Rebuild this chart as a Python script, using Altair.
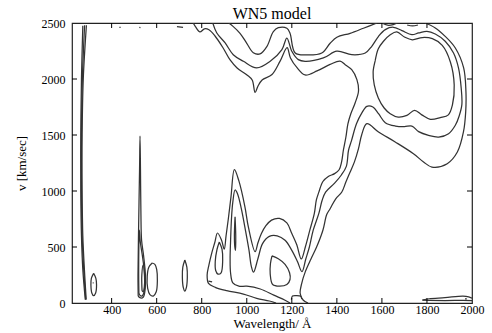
import altair as alt
import pandas as pd

title_text = "WN5 model"
x_title = "Wavelength/ Å"
y_title = "v [km/sec]"
x_ticks = [400, 600, 800, 1000, 1200, 1400, 1600, 1800, 2000]
y_ticks = [0, 500, 1000, 1500, 2000, 2500]
x_domain = [224, 2000]
y_domain = [0, 2500]

# contour lines: (wavelength [A], velocity [km/s])
top1 = [(920,2500),(939,2470),(970,2408),(1000,2319),(1029,2235),(1059,2224),(1089,2289),
        (1118,2423),(1140,2458),(1178,2453),(1192,2408),(1215,2232),(1267,2215),(1333,2232),
        (1370,2319),(1400,2373),(1459,2408),(1518,2453),(1578,2500)]

contour_a = [(762,2500),(772,2468),(792,2420),(812,2448),(832,2440),(859,2384),(895,2277),
             (926,2170),(957,2099),(1001,2036),(1024,1991),(1037,1880),(1050,1938),(1068,1991),
             (1112,2040),(1148,2160),(1179,2280),(1194,2188),(1224,2099),(1259,2036),(1312,2072),
             (1370,2130),(1414,2160),(1437,2128),(1466,2083),(1489,1994),(1496,1890),(1481,1786),
             (1462,1690),(1449,1600),(1440,1480),(1429,1366),(1421,1260),(1410,1190),(1390,1155),
             (1362,1130),(1338,1085),(1320,990),(1309,920),(1300,800),(1280,650),(1260,500),
             (1242,393),(1222,520),(1200,620),(1178,715),(1145,755),(1110,740),(1085,690),
             (1065,620),(1050,540),(1037,458),(1007,679),(992,857),(965,1090),(945,1190),
             (930,950),(918,750),(908,600),(900,480),(888,560),(870,625),(858,540),(845,450),
             (832,340),(824,250),(830,175),(860,140),(911,110),(985,80),(1044,42),(1100,18),(1130,0)]

contour_b = [(849,2500),(867,2411),(904,2322),(940,2217),(985,2158),(1044,2099),(1104,2158),
             (1156,2262),(1178,2366),(1200,2248),(1229,2173),(1259,2158),(1340,2188),(1400,2248),
             (1466,2217),(1526,2232),(1555,2292),(1585,2381),(1615,2441),(1651,2462),(1689,2432),
             (1733,2396),(1763,2411),(1800,2426),(1837,2402),(1881,2337),(1918,2232),(1940,2099),
             (1952,1920),(1955,1771),(1943,1670),(1926,1587),(1896,1512),(1852,1482),(1807,1497),
             (1763,1530),(1733,1580),(1700,1575),(1660,1580),(1615,1610),(1585,1690),(1560,1750),
             (1533,1756),(1511,1697),(1487,1600),(1465,1450),(1452,1366),(1442,1220),(1420,1143),
             (1390,1070),(1350,990),(1335,920),(1320,800),(1295,650),(1278,500),(1262,393),
             (1245,280),(1225,370),(1200,470),(1170,560),(1135,600),(1100,595),(1070,530),
             (1050,400),(1030,275),(1020,330),(1010,470),(995,640),(975,850),(958,980),(948,1009),
             (938,900),(932,750),(928,550),(926,400),(928,270),(938,180),(965,150),(1000,150),
             (1060,125),(1120,70),(1170,25),(1192,0)]

contour_c = [(1792,2500),(1837,2456),(1881,2381),(1926,2277),(1963,2099),(1973,1890),(1972,1706),
             (1962,1527),(1935,1348),(1890,1244),(1822,1214),(1785,1259),(1740,1333),(1659,1438),
             (1585,1527),(1533,1601),(1510,1500),(1496,1378),(1478,1260),(1459,1170),(1440,1080),
             (1422,991),(1395,930),(1370,842),(1355,790),(1338,650),(1310,500),(1285,393),
             (1260,280),(1244,176),(1237,87),(1250,27),(1272,0)]

loop_1800 = [(1570,2161),(1584,2270),(1607,2337),(1637,2395),(1666,2420),(1700,2375),(1735,2350),
             (1779,2370),(1824,2360),(1868,2300),(1904,2152),(1921,1947),(1913,1768),(1895,1680),
             (1859,1655),(1815,1640),(1777,1680),(1745,1720),(1711,1675),(1672,1660),(1637,1690),
             (1610,1741),(1584,1831),(1566,1947),(1561,2063),(1570,2161)]

teardrop_1140 = [(1112,420),(1140,395),(1170,345),(1190,270),(1192,210),(1178,165),(1145,150),
                 (1115,165),(1104,260),(1105,350),(1112,420)]

top_arc = [(1600,2500),(1625,2480),(1650,2485),(1668,2500)]
top_dash = [(1712,2482),(1736,2474),(1760,2482)]
top_left_dash = [(690,2468),(717,2462)]
dot_437 = [(434,2462),(440,2460)]
dot_526 = [(523,2460),(528,2458)]

thick_a = [(272,2475),(266,2000),(263,1500),(263,1000),(266,600),(272,300),(283,30)]
thick_b = [(280,2480),(270,2000),(266,1500),(266,1000),(269,600),(276,300),(285,30)]
thick_c = [(288,2480),(274,2000),(269,1500),(269,1000),(272,600),(279,300),(287,30)]

ellipse_320 = [(320,265),(310,220),(308,160),(312,90),(320,65),(329,90),(333,160),(330,220),(320,265)]
dash_320 = [(316,180),(320,180)]
ellipse_580 = [(580,357),(565,320),(558,240),(560,130),(570,75),(585,62),(598,100),(603,200),
               (600,300),(592,345),(580,357)]
ellipse_725 = [(725,384),(716,320),(714,230),(718,140),(725,107),(732,140),(736,230),(734,320),(725,384)]

spike_526_a = [(518,60),(517,250),(520,700),(524,1200),(526,1490),(528,1200),(530,800),(533,560),
               (542,420),(550,250),(548,110),(540,50),(528,45),(518,60)]
spike_526_b = [(521,90),(520,300),(523,650),(527,550),(538,400),(546,260),(544,100),(535,62),(525,70),(521,90)]
spike_526_c = [(535,110),(534,250),(540,340),(546,250),(545,140),(540,100),(535,110)]

spike_948 = [(948,770),(945,600),(947,500),(950,470),(951,600),(948,770)]
teardrop_875 = [(878,545),(868,480),(860,370),(862,290),(872,258),(886,270),(893,380),(890,480),(878,545)]
dash_840 = [(830,195),(846,188)]
arc_1220 = [(1198,30),(1203,62),(1220,66),(1240,60),(1244,35)]

sliver_top = [(1780,25),(1810,38),(1880,48),(1960,62),(1985,55),(2000,42)]
sliver_bottom = [(1780,25),(1880,22),(1960,24),(2000,22)]
dot_1973 = [(1969,36),(1977,36)]

segments = [
    ("top1", top1), ("a", contour_a), ("b", contour_b), ("c", contour_c), ("loop", loop_1800),
    ("tear1140", teardrop_1140),
    ("tarc", top_arc), ("tdash", top_dash), ("tldash", top_left_dash), ("d437", dot_437),
    ("d526", dot_526), ("tha", thick_a), ("thb", thick_b), ("thc", thick_c),
    ("e320", ellipse_320), ("d320", dash_320), ("e580", ellipse_580), ("e725", ellipse_725),
    ("s526a", spike_526_a), ("s526b", spike_526_b), ("s526c", spike_526_c),
    ("s948", spike_948), ("tear", teardrop_875), ("d840", dash_840), ("a1220", arc_1220),
    ("slt", sliver_top), ("slb", sliver_bottom), ("d1973", dot_1973),
]

rows = []
for name, pts in segments:
    for i, (lam, v) in enumerate(pts):
        rows.append({"seg": name, "ord": i, "lam": lam, "v": v})
df = pd.DataFrame(rows)

W, H = 400, 280
xscale = alt.Scale(domain=x_domain, nice=False, zero=False)
yscale = alt.Scale(domain=y_domain, nice=False, zero=False)
x_axis = alt.Axis(values=x_ticks, title=x_title, format="d")
y_axis = alt.Axis(values=y_ticks, title=y_title, format="d")

lines = alt.Chart(df).mark_line(color="#333333", strokeWidth=1.25, clip=True,
                                interpolate="catmull-rom").encode(
    x=alt.X("lam:Q", scale=xscale, axis=x_axis),
    y=alt.Y("v:Q", scale=yscale, axis=y_axis),
    detail="seg:N",
    order="ord:Q",
)

xt = pd.DataFrame({"lam": x_ticks[:-1]})
yt = pd.DataFrame({"v": y_ticks[1:-1]})

tick_bottom = alt.Chart(xt).mark_rule(color="black", strokeWidth=1).encode(
    x=alt.X("lam:Q", scale=xscale, axis=x_axis), y=alt.value(H), y2=alt.value(H - 5))
tick_top = alt.Chart(xt).mark_rule(color="black", strokeWidth=1).encode(
    x=alt.X("lam:Q", scale=xscale, axis=x_axis), y=alt.value(0), y2=alt.value(5))
tick_left = alt.Chart(yt).mark_rule(color="black", strokeWidth=1).encode(
    y=alt.Y("v:Q", scale=yscale, axis=y_axis), x=alt.value(0), x2=alt.value(5))
tick_right = alt.Chart(yt).mark_rule(color="black", strokeWidth=1).encode(
    y=alt.Y("v:Q", scale=yscale, axis=y_axis), x=alt.value(W), x2=alt.value(W - 5))

chart = alt.layer(lines, tick_bottom, tick_top, tick_left, tick_right).properties(
    width=W, height=H,
    title=alt.TitleParams(text=title_text, anchor="middle", dy=8),
    autosize=alt.AutoSizeParams(type="none"),
    padding={"left": 72, "top": 23, "right": 20, "bottom": 30},
).configure_view(
    stroke="#222222", strokeWidth=1.2
).configure_axis(
    grid=False, domain=False, ticks=False,
    labelFont="Liberation Serif", labelFontSize=12, labelColor="black",
    titleFont="Liberation Serif", titleFontSize=13, titleFontWeight="normal", titleColor="black",
).configure_axisX(
    labelPadding=1, titlePadding=2, labelFlush=False
).configure_axisY(
    labelPadding=7, titlePadding=13
).configure_title(
    font="Liberation Serif", fontSize=16, fontWeight="normal", color="black", offset=3
)

chart.save("out.html", embed_options={"renderer": "svg", "actions": False})
